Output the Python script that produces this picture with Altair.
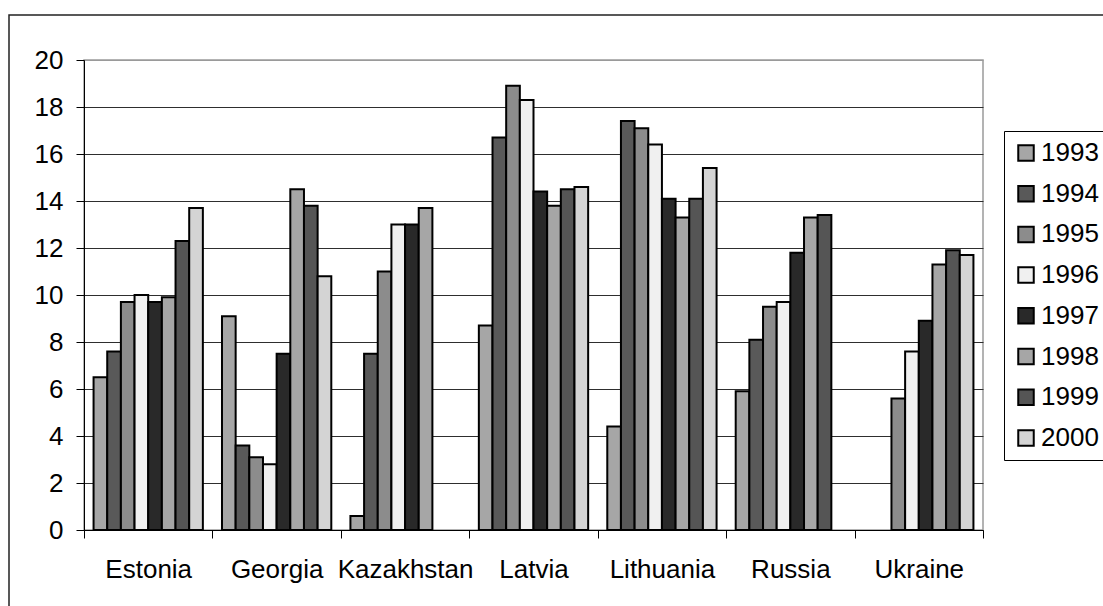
import altair as alt
import pandas as pd

# Categories and series
countries = ["Estonia", "Georgia", "Kazakhstan", "Latvia", "Lithuania", "Russia", "Ukraine"]
years = ["1993", "1994", "1995", "1996", "1997", "1998", "1999", "2000"]

# One list per year, values in country order (None = no data)
v1993 = [6.5, 9.1, 0.6, 8.7, 4.4, 5.9, None]
v1994 = [7.6, 3.6, 7.5, 16.7, 17.4, 8.1, None]
v1995 = [9.7, 3.1, 11.0, 18.9, 17.1, 9.5, 5.6]
v1996 = [10.0, 2.8, 13.0, 18.3, 16.4, 9.7, 7.6]
v1997 = [9.7, 7.5, 13.0, 14.4, 14.1, 11.8, 8.9]
v1998 = [9.9, 14.5, 13.7, 13.8, 13.3, 13.3, 11.3]
v1999 = [12.3, 13.8, None, 14.5, 14.1, 13.4, 11.9]
v2000 = [13.7, 10.8, None, 14.6, 15.4, None, 11.7]

year_colors = ["#a6a6a6", "#595959", "#8c8c8c", "#f0f0f0",
               "#292929", "#a6a6a6", "#555555", "#d4d4d4"]

y_ticks = [0, 2, 4, 6, 8, 10, 12, 14, 16, 18, 20]

series = [v1993, v1994, v1995, v1996, v1997, v1998, v1999, v2000]
rows = []
for year, vals in zip(years, series):
    for country, v in zip(countries, vals):
        if v is not None:
            rows.append({"country": country, "year": year, "value": v})
df = pd.DataFrame(rows)

FONT = "Liberation Sans"

bars = alt.Chart(df).mark_bar(stroke="black", strokeWidth=2).encode(
    x=alt.X(
        "country:N",
        sort=countries,
        scale=alt.Scale(domain=countries, paddingInner=0, paddingOuter=0),
        axis=alt.Axis(
            title=None, labelAngle=0, tickBand="extent", grid=False,
            domainColor="black", tickColor="black", tickSize=8,
            labelFont=FONT, labelFontSize=26, labelColor="black",
            labelBaseline="alphabetic", labelPadding=39,
        ),
    ),
    xOffset=alt.XOffset(
        "year:N", sort=years,
        scale=alt.Scale(domain=years, paddingInner=0, paddingOuter=0.7),
    ),
    y=alt.Y(
        "value:Q",
        scale=alt.Scale(domain=[0, 20], nice=False),
        axis=alt.Axis(
            title=None, values=y_ticks, grid=True,
            gridColor={"condition": {"test": "datum.value === 20", "value": "#9a9a9a"},
                       "value": "#2e2e2e"},
            gridWidth=1,
            domainColor="black", tickColor="black", tickSize=8,
            labelFont=FONT, labelFontSize=26, labelColor="black",
            labelPadding=13,
        ),
    ),
    color=alt.Color(
        "year:N",
        sort=years,
        scale=alt.Scale(domain=years, range=year_colors),
        legend=alt.Legend(
            title=None, orient="none", legendX=920, legendY=71,
            symbolType="square", symbolSize=240,
            symbolStrokeColor="black", symbolStrokeWidth=2, symbolOpacity=1,
            labelFont=FONT, labelFontSize=26, labelColor="black",
            labelOffset=2, rowPadding=14.7, padding=9,
            strokeColor="black", fillColor="white",
        ),
    ),
)

# Outer chart-area border
frame = alt.Chart(alt.Data(values=[{}])).mark_rect(
    fill=None, stroke="#222222", strokeWidth=1.5
).encode(
    x=alt.value(-75), y=alt.value(-45), x2=alt.value(1060), y2=alt.value(580)
)

chart = alt.layer(frame, bars).properties(
    width=899,
    height=470,
    padding={"left": 84, "top": 60, "right": 120, "bottom": 76},
    autosize=alt.AutoSizeParams(type="none"),
    background="white",
).configure_view(stroke="#9a9a9a", strokeWidth=1.5)

chart.save("out.html", embed_options={"renderer": "svg", "actions": False})
